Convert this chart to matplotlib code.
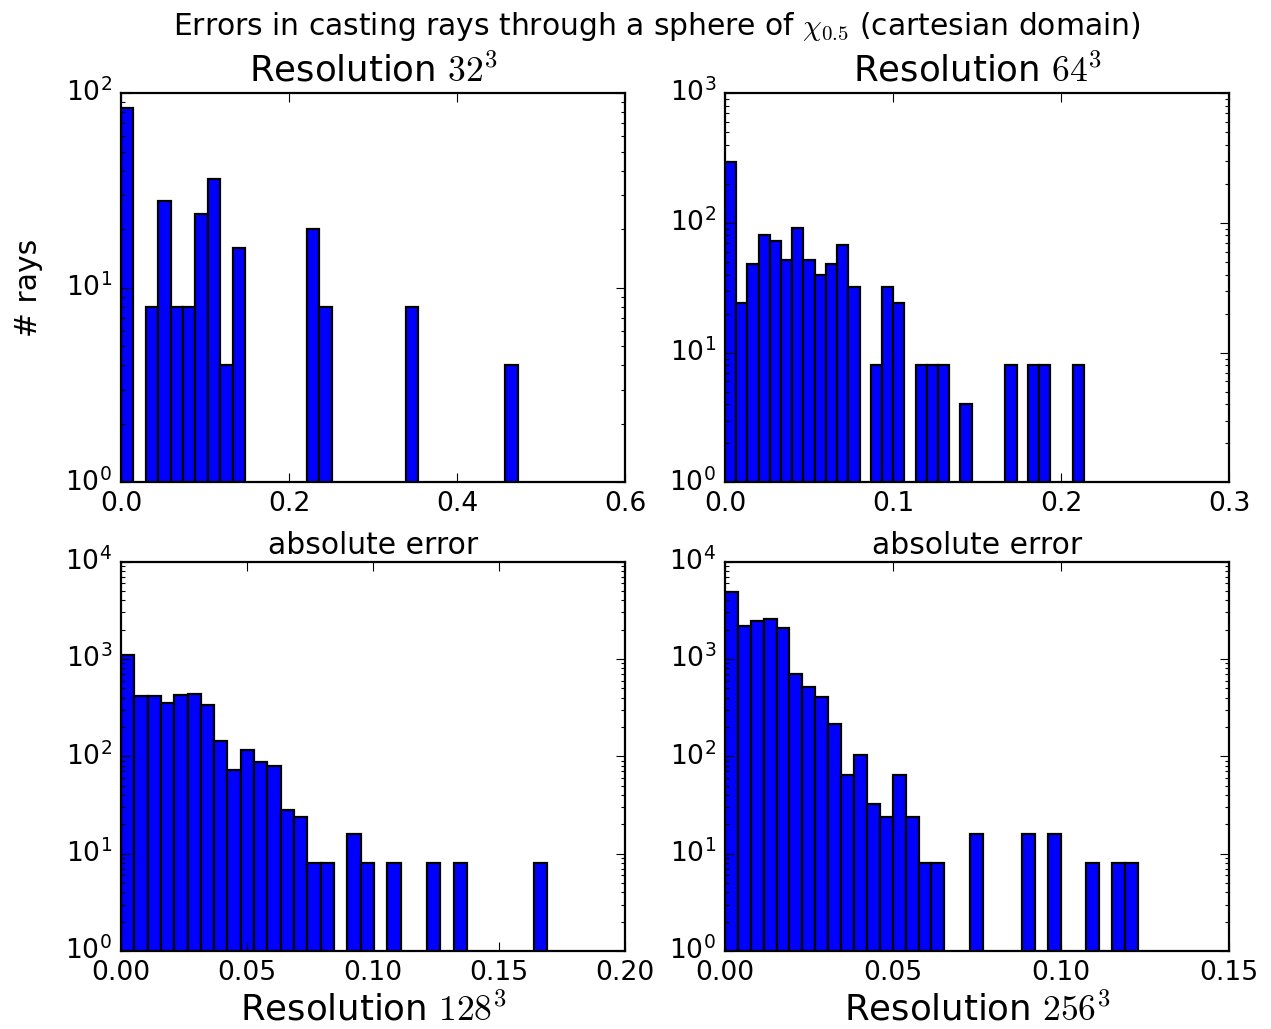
import matplotlib
matplotlib.use('Agg')
import matplotlib.pyplot as plt
import numpy as np

# Ray counts per error bin (32 equal bins from 0 up to the largest error)
counts_32 = [84, 0, 8, 28, 8, 8, 24, 36, 4, 16, 0, 0, 0, 0, 0, 20,
	8, 0, 0, 0, 0, 0, 0, 8, 0, 0, 0, 0, 0, 0, 0, 4]
counts_64 = [296, 24, 48, 80, 72, 52, 92, 52, 40, 48, 68, 32, 0, 8, 32, 24,
	0, 8, 8, 8, 0, 4, 0, 0, 0, 8, 0, 8, 8, 0, 0, 8]
counts_128 = [1084, 416, 416, 356, 424, 440, 340, 144, 72, 116, 88, 80, 28, 24, 8, 8,
	0, 16, 8, 0, 8, 0, 0, 8, 0, 8, 0, 0, 0, 0, 0, 8]
counts_256 = [4868, 2168, 2480, 2580, 2084, 692, 520, 408, 216, 64, 104, 32, 24, 64, 24, 8,
	8, 0, 0, 16, 0, 0, 0, 16, 0, 16, 0, 0, 8, 0, 8, 8]

# Largest absolute error for each resolution (right edge of the last bin)
max_error = [0.472, 0.2136, 0.169, 0.1229]
resolutions = [32, 64, 128, 256]
x_limits = [0.6, 0.3, 0.2, 0.15]
x_steps = [0.2, 0.1, 0.05, 0.05]
y_decades = [2, 3, 4, 4]


def plot_errors(ax, counts, err_max, res, x_max, x_step, decades, top_row):
	""" Draws one log-scaled histogram of ray errors """
	counts = np.asarray(counts, dtype=float)
	edges = np.linspace(0.0, err_max, len(counts) + 1)
	centers = 0.5 * (edges[:-1] + edges[1:])
	ax.hist(centers, bins=edges, weights=counts, log=True,
		color='b', edgecolor='k', linewidth=1.0)

	ax.set_xlim(0, x_max)
	ax.set_ylim(1, 10 ** decades)
	ax.set_xticks(np.arange(0, x_max + x_step / 2, x_step))
	label = r'Resolution $%d^3$' % res
	if top_row:
		ax.set_title(label, fontsize=16)
		ax.set_xlabel('absolute error', fontsize=13.4, labelpad=6)
	else:
		ax.set_xlabel(label, fontsize=16, labelpad=3)
	return ax


plt.style.use('classic')
plt.rcParams['figure.facecolor'] = 'white'
plt.rcParams['savefig.facecolor'] = 'white'

fig, axes = plt.subplots(2, 2, figsize=(1271 / 160, 1029 / 160), dpi=160)
fig.subplots_adjust(left=0.0952, right=0.967, bottom=0.0758, top=0.9096,
	wspace=0.198, hspace=0.203)

all_counts = [counts_32, counts_64, counts_128, counts_256]
for i, ax in enumerate(axes.flat):
	plot_errors(ax, all_counts[i], max_error[i], resolutions[i], x_limits[i],
		x_steps[i], y_decades[i], top_row=(i < 2))

axes[0, 0].set_ylabel('# rays', fontsize=13.4, labelpad=10)
fig.suptitle(r'Errors in casting rays through a sphere of $\chi_{0.5}$ (cartesian domain)',
	fontsize=13.4, x=0.517, y=0.974, va='center')

fig.savefig('out.png', dpi=160)
